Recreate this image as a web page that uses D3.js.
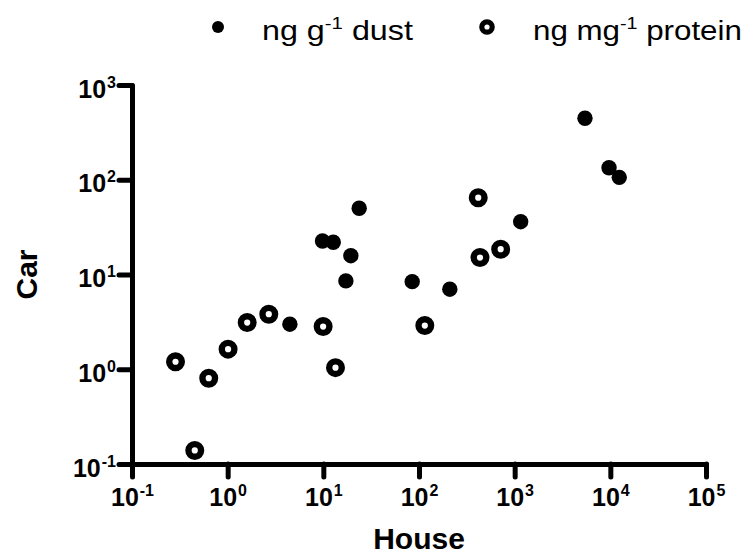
<!DOCTYPE html>
<head>
    <meta charset="utf-8">
    <title>House vs Car</title>
    <style>body { margin: 0; background: #fff; }</style>
</head>

<!-- Load d3.js -->
<script src="https://d3js.org/d3.v7.min.js"></script>

<div id="my_dataviz"></div>

<script>

    // values (log-log)
    var dustHouse = [23.7, 9.8, 12.7, 19.4, 17.2, 4.47, 5430, 9690, 12400, 1156, 84.9, 210];
    var dustCar   = [50.0, 22.6, 21.9, 15.8, 8.56, 2.99, 446, 134, 106, 36.1, 8.41, 7.0];

    var protHouse = [1.60, 2.69, 9.95, 1.01, 0.285, 0.634, 13.4, 416, 714, 434, 115, 0.453];
    var protCar   = [3.11, 3.81, 2.82, 1.63, 1.20, 0.805, 1.04, 64.7, 18.5, 15.1, 2.89, 0.139];

    var xExponents = [-1, 0, 1, 2, 3, 4, 5];
    var yExponents = [-1, 0, 1, 2, 3];

    var legendNames = ["ng g", "ng mg"];
    var legendTails = [" dust", " protein"];

    var font = "'Liberation Sans', Arial, sans-serif";

    // set the dimensions and margins of the graph
    var margin = {top: 85, right: 40, bottom: 92, left: 132},
        width = 746 - margin.left - margin.right,
        height = 556 - margin.top - margin.bottom;

    var root = d3.select("#my_dataviz")
      .append("svg")
      .attr("width", 746)
      .attr("height", 556)
      .style("font-family", font);

    var svg = root.append("g")
      .attr("transform", "translate(" + margin.left + "," + margin.top + ")");

    var x = d3.scaleLog()
      .domain([0.1, 100000])
      .range([0, width]);

    var y = d3.scaleLog()
      .domain([0.1, 1000])
      .range([height, 0]);

    // write 10 with a superscript exponent
    function powerLabel(text, e, supSize, supDy) {
      text.text(null);
      text.append("tspan").text("10");
      text.append("tspan")
        .attr("dy", supDy)
        .attr("dx", 1)
        .style("font-size", supSize + "px")
        .text(e);
    }

    // X axis
    var xAxis = svg.append("g")
      .attr("transform", "translate(0," + height + ")")
      .call(d3.axisBottom(x)
        .tickValues(xExponents.map(function(e) { return Math.pow(10, e); }))
        .tickSize(13).tickSizeOuter(0));

    xAxis.selectAll(".tick text")
      .attr("y", 42).attr("dy", 0)
      .style("font-size", "25px").style("font-weight", "bold")
      .each(function(d, i) { powerLabel(d3.select(this), xExponents[i], 16, -10); });

    // Y axis
    var yAxis = svg.append("g")
      .call(d3.axisLeft(y)
        .tickValues(yExponents.map(function(e) { return Math.pow(10, e); }))
        .tickSize(13).tickPadding(3).tickSizeOuter(0));

    yAxis.selectAll(".tick text")
      .attr("dy", 12)
      .style("font-size", "25px").style("font-weight", "bold")
      .each(function(d, i) { powerLabel(d3.select(this), yExponents[i], 16, -10); });

    svg.selectAll(".domain, .tick line")
      .attr("stroke", "#000")
      .attr("stroke-width", 5)
      .attr("stroke-linecap", "round");

    // axis titles
    svg.append("text")
      .attr("text-anchor", "middle")
      .attr("x", width / 2)
      .attr("y", height + 85)
      .style("font-size", "30px").style("font-weight", "bold")
      .text("House");

    svg.append("text")
      .attr("text-anchor", "middle")
      .attr("transform", "translate(" + (-95) + "," + (height / 2) + ") rotate(-90)")
      .style("font-size", "30px").style("font-weight", "bold")
      .text("Car");

    // dots
    svg.append("g")
      .selectAll("circle")
      .data(dustHouse)
      .enter()
      .append("circle")
        .attr("cx", function(d) { return x(d); })
        .attr("cy", function(d, i) { return y(dustCar[i]); })
        .attr("r", 7.7)
        .style("fill", "#000");

    svg.append("g")
      .selectAll("circle")
      .data(protHouse)
      .enter()
      .append("circle")
        .attr("cx", function(d) { return x(d); })
        .attr("cy", function(d, i) { return y(protCar[i]); })
        .attr("r", 6.3)
        .style("fill", "#fff")
        .style("stroke", "#000")
        .style("stroke-width", 6.4);

    // legend
    var legend = root.append("g");
    var markX = [218, 487], textX = [262, 533], textW = [151, 209];

    legendNames.forEach(function(name, i) {
      if (i == 0) {
        legend.append("circle").attr("cx", markX[i]).attr("cy", 27).attr("r", 6).style("fill", "#000");
      } else {
        legend.append("circle").attr("cx", markX[i]).attr("cy", 27).attr("r", 5.2)
          .style("fill", "#fff").style("stroke", "#000").style("stroke-width", 5.2);
      }
      var g = legend.append("g").attr("transform", "translate(" + textX[i] + ",40)");
      var t = g.append("text").style("font-size", "27px");
      t.append("tspan").text(name);
      t.append("tspan").attr("dy", -11).style("font-size", "17px").text("-1");
      t.append("tspan").attr("dy", 11).text(legendTails[i]);
      // stretch to the width seen in the picture
      var w = t.node().getComputedTextLength();
      g.attr("transform", "translate(" + textX[i] + ",40) scale(" + (textW[i] / w) + ",1)");
    });

</script>
